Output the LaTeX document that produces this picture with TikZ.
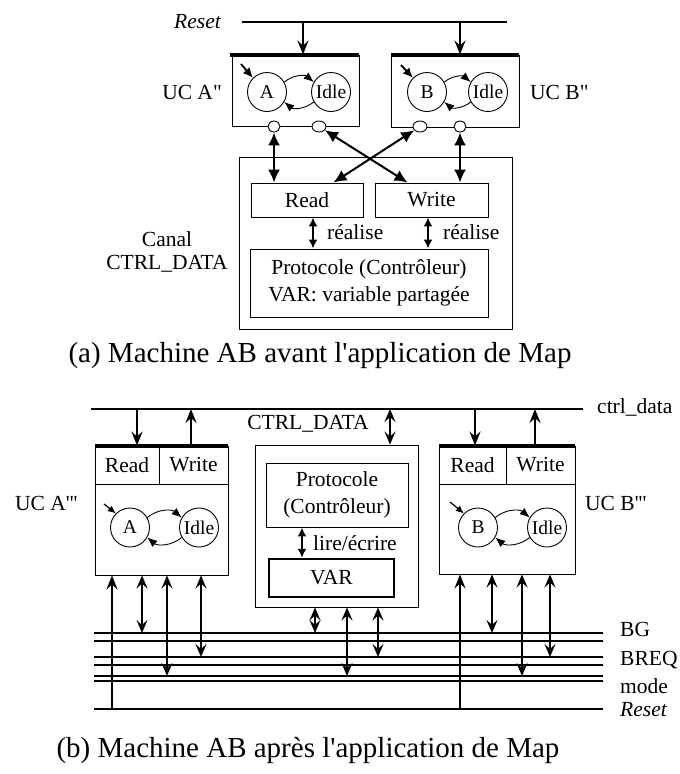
\documentclass[tikz,border=0pt]{standalone}
\usepackage{fontspec}
\setmainfont{Liberation Serif}
\usetikzlibrary{arrows.meta,shapes.geometric}

\begin{document}
\begin{tikzpicture}[
        x=1pt, y=-1pt,  % pixel grid, y runs downwards
        lbl/.style={inner sep=0pt, font=\fontsize{21.5}{25}\selectfont},
        captxt/.style={inner sep=0pt, font=\fontsize{29}{32}\selectfont},
        box/.style={draw, line width=0.9pt, inner sep=0pt, align=center, font=\fontsize{21.5}{27}\selectfont},
        stnode/.style={draw, circle, minimum size=39pt, inner sep=0pt, line width=0.9pt, font=\fontsize{19.5}{21}\selectfont},
        port/.style={draw, ellipse, fill=white, inner sep=0pt, minimum height=11pt, line width=0.9pt},
        bar/.style={line width=4pt},
        bus/.style={line width=2pt},
        sig/.style={line width=2pt, -{Stealth[length=14pt, width=11pt, inset=5pt]}},
        dbl/.style={line width=2pt, {Latex[length=13pt, width=12pt]}-{Latex[length=13pt, width=12pt]}},
        dblsmall/.style={line width=2pt, {Latex[length=9pt, width=9pt]}-{Latex[length=9pt, width=9pt]}},
        dblb/.style={line width=2pt, {Stealth[length=13pt, width=11pt, inset=5pt]}-{Stealth[length=13pt, width=11pt, inset=5pt]}},
        trans/.style={line width=0.9pt, -{Latex[length=10pt, width=8pt]}},
        initA/.style={line width=1.8pt, -{Latex[length=10pt, width=9pt]}},
        initB/.style={line width=1.2pt, -{Latex[length=8pt, width=7pt]}},
    ]

    \useasboundingbox (0,0) rectangle (680,774);

    % ===== (a) before Map =====

    % Reset line
    \node[lbl, anchor=east, font=\fontsize{21.5}{25}\selectfont\itshape] (rstTxtA) at (221,22) {Reset};
    \coordinate (rstAl) at (242,22);
    \coordinate (rstAr) at (507,22);
    \draw[bus] (rstAl) -- (rstAr);

    % UC boxes
    \node[box, minimum width=127pt, minimum height=71pt] (ucA) at (295.5,90.5) {};
    \node[box, minimum width=128pt, minimum height=72pt] (ucB) at (455,91) {};
    \draw[bar] ([xshift=-2pt]ucA.north west) -- (ucA.north east);
    \draw[bar] (ucB.north west) -- (ucB.north east);
    \node[lbl, anchor=east] (ucAtxt) at (222,92) {UC A\textquotedbl};
    \node[lbl, anchor=west] (ucBtxt) at (530,92) {UC B\textquotedbl};

    \coordinate (rstA) at (303,22);
    \coordinate (rstB) at (460,22);
    \draw[sig] (rstA) -- (rstA |- ucA.north);
    \draw[sig] (rstB) -- (rstB |- ucB.north);

    % states
    \node[stnode] (sA) at (267,92) {A};
    \node[stnode] (iA) at (331,92) {Idle};
    \draw[trans] (sA.30) to[bend left=40] (iA.150);
    \draw[trans] (iA.-150) to[bend left=40] (sA.-30);
    \coordinate (inA) at (241,64);
    \draw[initA] (inA) -- (sA.135);

    \node[stnode] (sB) at (427,92) {B};
    \node[stnode] (iB) at (488,92) {Idle};
    \draw[trans] (sB.30) to[bend left=40] (iB.150);
    \draw[trans] (iB.-150) to[bend left=40] (sB.-30);
    \coordinate (inB) at (401,65);
    \draw[initA] (inB) -- (sB.135);

    % ports
    \node[port, minimum width=12pt] (pA1) at (274,126.5) {};
    \node[port, minimum width=14pt] (pA2) at (319,126.5) {};
    \node[port, minimum width=14pt] (pB1) at (420,126.5) {};
    \node[port, minimum width=12pt] (pB2) at (460,126.5) {};

    % channel
    \node[box, minimum width=273pt, minimum height=172pt] (canal) at (375.5,243) {};
    \node[box, minimum width=112pt, minimum height=34pt] (rdA) at (307,200) {Read};
    \node[box, minimum width=113pt, minimum height=34pt] (wrA) at (431.5,200) {Write};
    \node[box, minimum width=238pt, minimum height=68pt] (protA) at (369,283) {Protocole (Contrôleur)\\VAR: variable partagée};
    \node[lbl, align=center, font=\fontsize{21.5}{23}\selectfont] (canalTxt) at (167,251.5) {Canal\\CTRL\_DATA};

    \draw[dbl] (pA1) -- (pA1 |- rdA.north);
    \draw[dbl] (pB2) -- (pB2 |- wrA.north);
    \draw[dbl] (pA2) -- ([xshift=33pt]wrA.north west);
    \draw[dbl] (pB1) -- ([xshift=-30pt]rdA.north east);

    \coordinate (rlA) at ([xshift=6pt]rdA.south);
    \coordinate (rlB) at ([xshift=-3.5pt]wrA.south);
    \draw[dblsmall] (rlA) -- (rlA |- protA.north);
    \draw[dblsmall] (rlB) -- (rlB |- protA.north);
    \node[lbl, anchor=west] (rlAtxt) at (327,232) {réalise};
    \node[lbl, anchor=west] (rlBtxt) at (443,232) {réalise};

    \node[captxt] (capA) at (320,356) {(a) Machine AB avant l\textquotesingle application de Map};

    % ===== (b) after Map =====

    % ctrl_data bus
    \coordinate (ctrlL) at (91,409);
    \coordinate (ctrlR) at (583,409);
    \draw[bus] (ctrlL) -- (ctrlR);
    \node[lbl, anchor=west] (ctrlTxt) at (597,407) {ctrl\_data};

    % UC A'''
    \node[box, minimum width=133pt, minimum height=129pt] (ucAb) at (161.5,510.5) {};
    \node[box, minimum width=64pt, minimum height=38pt] (rdAb) at (127,465) {Read};
    \node[box, minimum width=69pt, minimum height=38pt] (wrAb) at (193.5,465) {Write};
    \draw[bar] (ucAb.north west) -- (ucAb.north east);
    \node[lbl, anchor=west] (ucAbTxt) at (15,503) {UC A\textquotesingle\textquotesingle\textquotesingle};

    \node[stnode] (sAb) at (130,527.5) {A};
    \node[stnode] (iAb) at (199,527.5) {Idle};
    \draw[trans] (sAb.30) to[bend left=40] (iAb.150);
    \draw[trans] (iAb.-150) to[bend left=40] (sAb.-30);
    \coordinate (inAb) at (104,504);
    \draw[initB] (inAb) -- (sAb.135);

    \coordinate (cA1) at (137,409);
    \coordinate (cA2) at (191,409);
    \draw[sig] (cA1) -- (cA1 |- ucAb.north);
    \draw[sig] (cA2 |- ucAb.north) -- (cA2);

    % UC B'''
    \node[box, minimum width=136pt, minimum height=128pt] (ucBb) at (507,510) {};
    \node[box, minimum width=67pt, minimum height=38pt] (rdBb) at (472.5,465) {Read};
    \node[box, minimum width=69pt, minimum height=38pt] (wrBb) at (540.5,465) {Write};
    \draw[bar] (ucBb.north west) -- (ucBb.north east);
    \node[lbl, anchor=west] (ucBbTxt) at (585,503) {UC B\textquotesingle\textquotesingle\textquotesingle};

    \node[stnode] (sBb) at (478,527.5) {B};
    \node[stnode] (iBb) at (547,527.5) {Idle};
    \draw[trans] (sBb.30) to[bend left=40] (iBb.150);
    \draw[trans] (iBb.-150) to[bend left=40] (sBb.-30);
    \coordinate (inBb) at (450,502);
    \draw[initB] (inBb) -- (sBb.135);

    \coordinate (cB1) at (475,409);
    \coordinate (cB2) at (535,409);
    \draw[sig] (cB1) -- (cB1 |- ucBb.north);
    \draw[sig] (cB2 |- ucBb.north) -- (cB2);

    % CTRL_DATA controller
    \node[box, minimum width=163pt, minimum height=162pt] (ctrlBox) at (336.5,526) {};
    \node[box, minimum width=142pt, minimum height=64pt] (protB) at (337,495) {Protocole\\(Contrôleur)};
    \node[box, line width=2.5pt, minimum width=125pt, minimum height=38pt] (varB) at (331.5,578) {VAR};
    \node[lbl] (ctrlBoxTxt) at (308,424) {CTRL\_DATA};
    \coordinate (cC) at (390,409);
    \draw[dblb] (cC) -- (cC |- ctrlBox.north);

    \coordinate (leB) at ([xshift=-35pt]protB.south);
    \draw[dblsmall] (leB) -- (leB |- varB.north);
    \node[lbl, anchor=west] (leTxt) at (313,543) {lire/écrire};

    % signal lines
    \foreach \y/\nm in {633/bg, 641/bgb, 657/breq, 665/breqb, 676/mode, 681/modeb, 709/rst} {
        \coordinate (\nm-l) at (94,\y);
        \coordinate (\nm-r) at (603,\y);
        \draw[bus] (\nm-l) -- (\nm-r);
    }
    \node[lbl, anchor=west] (bgTxt) at (620,629) {BG};
    \node[lbl, anchor=west] (breqTxt) at (620,660) {BREQ};
    \node[lbl, anchor=west] (modeTxt) at (620,686) {mode};
    \node[lbl, anchor=west, font=\fontsize{21.5}{25}\selectfont\itshape] (rstTxtB) at (620,710) {Reset};

    % reset into the UCs
    \coordinate (rtA) at (112,709);
    \coordinate (rtB) at (460,709);
    \draw[sig] (rtA) -- (rtA |- ucAb.south);
    \draw[sig] (rtB) -- (rtB |- ucBb.south);

    % taps on BG, BREQ, mode
    \foreach \x/\line/\unit in {142/bg/ucAb, 167/mode/ucAb, 201/breq/ucAb,
                               315/bg/ctrlBox, 347/mode/ctrlBox, 378/breq/ctrlBox,
                               492/bg/ucBb, 522/mode/ucBb, 550/breq/ucBb} {
        \coordinate (tap) at (\x,0);
        \draw[dblb] (\unit.south -| tap) -- (\line-l -| tap);
    }

    \node[captxt] (capB) at (308,750) {(b) Machine AB après l\textquotesingle application de Map};

\end{tikzpicture}
\end{document}
